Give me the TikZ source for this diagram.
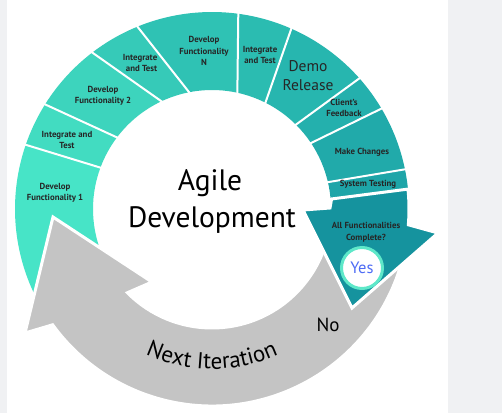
\documentclass[tikz,border=0pt]{standalone}
\usepackage{fontspec}
\setmainfont{PT Sans}
\usepackage{tikz}
\usetikzlibrary{decorations.text}

\definecolor{pagegray}{HTML}{F0F1F3}
\definecolor{segA}{HTML}{47E4C7}
\definecolor{segB}{HTML}{42DCC1}
\definecolor{segC}{HTML}{3DD4BD}
\definecolor{segD}{HTML}{36CAB8}
\definecolor{segE}{HTML}{2FC2B4}
\definecolor{segF}{HTML}{2BBCB1}
\definecolor{segG}{HTML}{27B6AF}
\definecolor{segH}{HTML}{24B0AD}
\definecolor{segI}{HTML}{21AAAA}
\definecolor{segJ}{HTML}{1EA5A8}
\definecolor{segK}{HTML}{15939E}
\definecolor{arrowgray}{HTML}{C4C4C4}
\definecolor{yesring}{HTML}{5EE8C9}
\definecolor{yesblue}{HTML}{4E6CF5}

\tikzset{
  lbl/.style={font=\fontsize{8.8}{11.5}\selectfont\bfseries, text=black!85, align=center, inner sep=0pt},
  bigtxt/.style={font=\fontsize{29.5}{30}\selectfont, text=black, inner sep=0pt},
  sep/.style={white, line width=2pt},
}

\begin{document}
\begin{tikzpicture}[x=1pt,y=1pt]
%\draw[help lines,step=20](-212,-204)grid(290,209);
\useasboundingbox (-212,-204) rectangle (290,209);
\fill[pagegray] (-212,-204) rectangle (290,209);
\fill[white] (-205,-204) rectangle (236,209);
% ring
\foreach \oa/\ob/\ia/\ib/\col in {206/161/200/159.6/segA, 161/148/159.6/142.8/segB, 148/127.6/142.8/114.6/segC, 127.6/112.4/114.6/100.6/segD, 112.4/82.4/100.6/77.5/segE, 82.4/66.3/77.5/63.2/segF, 66.3/41.5/63.2/45.3/segG, 41.5/30.6/45.3/33.8/segH, 30.6/11.6/33.8/13.1/segI, 11.6/5.8/13.1/4.8/segJ}
  \fill[\col] (\oa:197) arc [start angle=\oa, end angle=\ob, radius=197] -- (\ib:119) arc [start angle=\ib, end angle=\ia, radius=119] -- cycle;
\foreach \o/\i in {161/159.6, 148/142.8, 127.6/114.6, 112.4/100.6, 82.4/77.5, 66.3/63.2, 41.5/45.3, 30.6/33.8, 11.6/13.1}
  \draw[sep] (\o:199) -- (\i:117);
% next iteration
\filldraw[fill=arrowgray, draw=white, line width=3pt] (-15:197) arc [start angle=-15, end angle=-144, radius=197] -- (-187,-124) -- (-159,-8) -- (-60,-73) -- (-135.3:119) arc [start angle=-135.3, end angle=-15, radius=119] -- cycle;
% all functionalities
\filldraw[fill=segK, draw=white, line width=3pt] (5.8:197) arc [start angle=5.8, end angle=-4.6, radius=197] -- (226,-24) -- (140,-99) -- (91,-1) -- (118,1) -- (4.8:120) -- cycle;

\node[bigtxt, anchor=base] (agile) at (-2,19) {Agile};
\node[bigtxt, anchor=base] (devel) at (0,-18) {Development};

\node[lbl] (dev1) at (-157,16) {Develop\\Functionality 1};
\node[lbl] (int1) at (-145,69) {Integrate and\\Test};
\node[lbl] (dev2) at (-109,113) {Develop\\Functionality 2};
\node[lbl, align=right] (int2) at (-72,146) {Integrate\\and Test};
\node[lbl] (devn) at (-8,158) {Develop\\Functionality\\N};
\node[lbl] (int3) at (48,154) {Integrate\\and Test};
\node[lbl, font=\fontsize{15.5}{19}\selectfont] (demo) at (96,133) {Demo\\Release};
\node[lbl] (client) at (132,101) {Client’s\\Feedback};
\node[lbl] (make) at (150,57) {Make Changes};
\node[lbl] (systest) at (156,25) {System Testing};
\node[lbl] (allf) at (154,-23) {All Functionalities\\Complete?};

\node[circle, fill=white, draw=yesring, line width=3pt, minimum size=41pt, inner sep=0pt, text=yesblue, font=\fontsize{16.5}{16.5}\selectfont] (yes) at (150,-59) {Yes};
\node[font=\fontsize{19}{19}\selectfont] (no) at (116,-116) {No};

\path[decorate, decoration={text along path, text align=center, text={|\fontsize{23}{23}\selectfont|Next Iteration}}] (244:160) arc [start angle=244, end angle=296, radius=160];
\end{tikzpicture}
\end{document}
